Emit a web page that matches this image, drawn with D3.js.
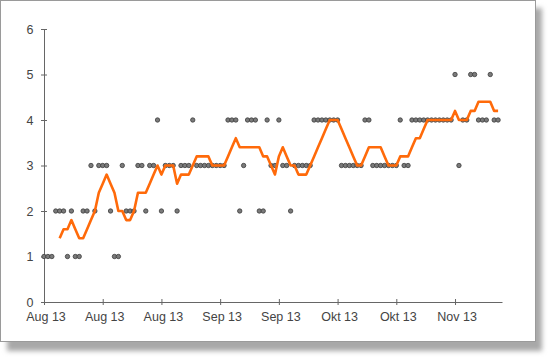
<!DOCTYPE html>
<html lang="de">
<head>
<title>Daily score with 5 day average</title>
<meta charset="utf-8">

<script src="https://d3js.org/d3.v7.min.js"></script>

<style type="text/css">

  body {
    margin: 0;
    background: #fff;
    font-family: 'Liberation Sans', Arial, sans-serif;
  }

  .axis path, .axis line {
    stroke: #666;
  }
  .axis text {
    fill: #444;
    font-size: 12.5px;
    font-family: 'Liberation Sans', Arial, sans-serif;
  }

</style>

</head>

<body>

<div id="chart"></div>

<script>


/* Data */
/* ==== */

// first day of the series, one value per day after that
var startDay = '2013-08-01';

var values = [
  1, 1, 1, 2, 2, 2, 1, 2, 1, 1, 2, 2, 3, 2, 3,
  3, 3, 2, 1, 1, 3, 2, 2, 2, 3, 3, 2, 3, 3, 4,
  2, 3, 3, 3, 2, 3, 3, 3, 4, 3, 3, 3, 3, 3, 3,
  3, 3, 4, 4, 4, 2, 3, 4, 4, 4, 2, 2, 4, 3, 3,
  4, 3, 3, 2, 3, 3, 3, 3, 3, 4, 4, 4, 4, 4, 4,
  4, 3, 3, 3, 3, 3, 3, 4, 4, 3, 3, 3, 3, 3, 3,
  3, 4, 3, 3, 4, 4, 4, 4, 4, 4, 4, 4, 4, 4, 4,
  5, 3, 4, 4, 5, 5, 4, 4, 4, 5, 4, 4
];

// orange average line, starts on the 5th day
var trendOffset = 4;
var trend = [
  1.4, 1.6, 1.6, 1.8, 1.6, 1.4, 1.4, 1.6, 1.8, 2.0, 2.4, 2.6, 2.8, 2.6, 2.4,
  2.0, 2.0, 1.8, 1.8, 2.0, 2.4, 2.4, 2.4, 2.6, 2.8, 3.0, 2.8, 3.0, 3.0, 3.0,
  2.6, 2.8, 2.8, 2.8, 3.0, 3.2, 3.2, 3.2, 3.2, 3.0, 3.0, 3.0, 3.0, 3.2, 3.4,
  3.6, 3.4, 3.4, 3.4, 3.4, 3.4, 3.4, 3.2, 3.2, 3.0, 2.8, 3.2, 3.4, 3.2, 3.0,
  3.0, 2.8, 2.8, 2.8, 3.0, 3.2, 3.4, 3.6, 3.8, 4.0, 4.0, 4.0, 3.8, 3.6, 3.4,
  3.2, 3.0, 3.0, 3.2, 3.4, 3.4, 3.4, 3.4, 3.2, 3.0, 3.0, 3.0, 3.2, 3.2, 3.2,
  3.4, 3.6, 3.6, 3.8, 4.0, 4.0, 4.0, 4.0, 4.0, 4.0, 4.0, 4.2, 4.0, 4.0, 4.0,
  4.2, 4.2, 4.4, 4.4, 4.4, 4.4, 4.2, 4.2
];

var xDomain = ['2013-08-01', '2013-11-26'];
var tickDates = ['2013-08-01', '2013-08-16', '2013-08-31', '2013-09-15',
                 '2013-09-30', '2013-10-15', '2013-10-30', '2013-11-14'];
var tickLabels = ['Aug 13', 'Aug 13', 'Aug 13', 'Sep 13',
                  'Sep 13', 'Okt 13', 'Okt 13', 'Nov 13'];
var yTicks = [0, 1, 2, 3, 4, 5, 6];


/* Set up svg */
/* ========== */

var width = 550,
    height = 361;

var svg = d3.select('#chart').append('svg')
  .attr('width', width)
  .attr('height', height);

var parse = d3.utcParse('%Y-%m-%d');

// Drop shadow behind the frame
var defs = svg.append('defs');
defs.append('filter')
    .attr('id', 'blur')
    .attr('x', '-5%').attr('y', '-5%')
    .attr('width', '110%').attr('height', '110%')
  .append('feGaussianBlur')
    .attr('stdDeviation', 2.5);

svg.append('rect')
  .attr('x', 7)
  .attr('y', 8)
  .attr('width', 535)
  .attr('height', 343)
  .attr('fill', '#a8a8a8')
  .attr('filter', 'url(#blur)');

svg.append('rect')
  .attr('x', 0.5)
  .attr('y', 0.5)
  .attr('width', 535)
  .attr('height', 341)
  .attr('fill', '#fff')
  .attr('stroke', '#9a9a9a');


/* Scales and axes */
/* =============== */

var x = d3.scaleUtc()
    .domain(xDomain.map(parse))
    .range([44, 502]);

var y = d3.scaleLinear()
    .domain([0, 6])
    .range([302, 29]);

var xAxis = svg.append('g')
  .attr('class', 'axis')
  .attr('transform', 'translate(0,' + y(0) + ')')
  .call(d3.axisBottom(x)
    .tickValues(tickDates.map(parse))
    .tickFormat(function(d, i) { return tickLabels[i]; })
    .tickSizeInner(3)
    .tickSizeOuter(0)
    .tickPadding(7.5));

xAxis.selectAll('.tick line').attr('y1', -3).attr('y2', 3);
xAxis.selectAll('.tick text').attr('dx', 1.5);

var yAxis = svg.append('g')
  .attr('class', 'axis')
  .attr('transform', 'translate(' + x.range()[0] + ',0)')
  .call(d3.axisLeft(y)
    .tickValues(yTicks)
    .tickFormat(d3.format('d'))
    .tickSizeInner(3)
    .tickSizeOuter(0)
    .tickPadding(7.5));

yAxis.selectAll('.tick line').attr('x1', 3).attr('x2', -3);


/* Marks */
/* ===== */

var points = values.map(function(v, i) {
  return { date: d3.utcDay.offset(parse(startDay), i), value: v };
});

var trendPoints = trend.map(function(v, i) {
  return { date: d3.utcDay.offset(parse(startDay), i + trendOffset), value: v };
});

svg.append('g')
  .selectAll('circle')
  .data(points)
  .join('circle')
    .attr('cx', function(d) { return x(d.date); })
    .attr('cy', function(d) { return y(d.value); })
    .attr('r', 2.2)
    .attr('fill', '#7a7a7a')
    .attr('stroke', '#3c3c3c')
    .attr('stroke-width', 0.8);

var line = d3.line()
    .x(function(d) { return x(d.date); })
    .y(function(d) { return y(d.value); });

svg.append('path')
  .datum(trendPoints)
  .attr('d', line)
  .attr('fill', 'none')
  .attr('stroke', '#ff6a0a')
  .attr('stroke-width', 2.6)
  .attr('stroke-linejoin', 'round');


</script>

</body>
</html>
